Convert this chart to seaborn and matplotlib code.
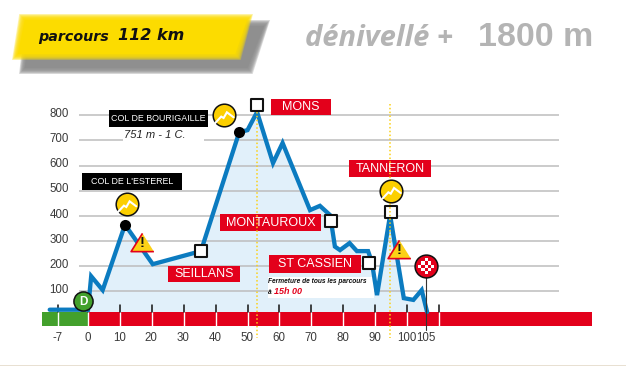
import numpy as np
import pandas as pd
import matplotlib
matplotlib.use("Agg")
import matplotlib.pyplot as plt
import matplotlib.patheffects as pe
import seaborn as sns
from matplotlib.patches import Polygon, Rectangle

# --- data ---------------------------------------------------------------
km = [-12, 0, 1, 4.6, 11.6, 20.3, 35.4, 47.4, 50, 53, 58, 61, 69.6, 72.7, 75.9, 77.4, 79, 82, 84.3, 87.8, 89, 90.6, 94.7, 99, 102, 104.6, 106.3]
alt = [27, 27, 160, 105, 365, 208, 260, 733, 741, 813, 610, 690, 423, 440, 403, 278, 264, 292, 260, 260, 216, 85, 403, 73, 66, 105, 18]
alt_ticks = [100, 200, 300, 400, 500, 600, 700, 800]
km_ticks = [0, 10, 20, 30, 40, 50, 60, 70, 80, 90, 100]
cols_km = [11.6, 47.4]
cols_alt = [365, 733]
towns_km = [35.5, 53, 76.2, 88, 95]
towns_alt = [262, 839, 380, 213, 417]
town_labels = ["SEILLANS", "MONS", "MONTAUROUX", "ST CASSIEN", "TANNERON"]
col_labels = ["COL DE BOURIGAILLE", "COL DE L'ESTEREL"]
col_icon_km = [12.1, 42.6, 95]
col_icon_alt = [446, 800, 499]
warn_km = [17, 97.4]
warn_alt = [296, 268]

sns.set_theme(style="white")
plt.rcParams['font.family'] = ['Liberation Sans', 'DejaVu Sans']

W, H = 626, 366
fig = plt.figure(figsize=(W / 100, H / 100), dpi=100)
ax = fig.add_axes([0, 0, 1, 1])
PX = 3.19
PY = 0.2515
X0, Y0 = 88, 316.5
ax.set_xlim(-X0 / PX, (W - X0) / PX)
ax.set_ylim((Y0 - H) / PY, Y0 / PY)
ax.axis("off")

def xp(p): return (p - X0) / PX
def yp(p): return (Y0 - p) / PY

def blurred(points, color, z, spread=4, steps=9):
    pts = np.array(points, float)
    c = pts.mean(axis=0)
    half = (pts.max(axis=0) - pts.min(axis=0)) / 2
    for i in range(steps):
        d = spread * (1 - 2 * i / (steps - 1))
        scaled = c + (pts - c) * (1 + d / half)
        ax.add_patch(Polygon(np.c_[xp(scaled[:, 0]), yp(scaled[:, 1])], closed=True, fc=color, ec="none", alpha=0.3, zorder=z))
    inner = c + (pts - c) * (1 - spread / half)
    ax.add_patch(Polygon(np.c_[xp(inner[:, 0]), yp(inner[:, 1])], closed=True, fc=color, ec="none", zorder=z))

blurred([(28, 23), (267, 23), (250, 71), (22, 71)], "#8f8f8f", 1, spread=3)
blurred([(22, 17), (250, 17), (238, 57), (15, 57)], "#fcdc00", 2, spread=3)
ax.text(xp(38), yp(37), "parcours", fontsize=10.3, fontstyle="italic", fontweight="bold", family="DejaVu Sans", color="#111111", va="center", ha="left", zorder=3)
ax.text(xp(118), yp(36), "112 km", fontsize=11.5, fontstyle="italic", fontweight="bold", family="DejaVu Sans", color="#111111", va="center", ha="left", zorder=3)
ax.text(xp(305), yp(39), "dénivellé +", fontsize=21, fontstyle="italic", fontweight="bold", family="Open Sans", color="#b4b4b4", va="center", ha="left", zorder=3)
ax.text(xp(478), yp(38), "1800 m", fontsize=24.5, fontweight="bold", family="Liberation Sans", color="#b4b4b4", va="center", ha="left", zorder=3)

# grid
for a in alt_ticks:
    ax.plot([xp(79), xp(559)], [a, a], color="#bdbdbd", lw=1.1, zorder=2, solid_capstyle="butt")
    ax.text(xp(69), a + 5, str(a), fontsize=8.3, color="#3a3a3a", ha="right", va="center", zorder=9)

# profile fill
prof = pd.DataFrame({"km": km, "alt": alt})
fp = prof[prof.km >= 0]
ax.fill_between(fp.km, np.full(len(fp), 18), fp.alt, color="#e1f0fa", lw=0, zorder=1.5)

# km band
ax.add_patch(Rectangle((xp(42), yp(326.3)), (88 - 42) / PX, 14 / PY, fc="#43a02c", ec="none", zorder=3))
ax.add_patch(Rectangle((xp(88.7), yp(326.3)), (592 - 88.7) / PX, 14 / PY, fc="#e3001b", ec="none", zorder=3))
for t in km_ticks + [110, -9.4]:
    ax.plot([t, t], [yp(326.3), yp(312.3)], color="white", lw=1.0, zorder=4)
    ax.plot([t, t], [yp(312), yp(304.5)], color="#111111", lw=1.1, zorder=4)
for t in km_ticks:
    ax.text(t - 0.2, yp(338), str(t), fontsize=8.3, color="#3a3a3a", ha="center", va="center", zorder=9)
ax.text(-9.4, yp(338), "-7", fontsize=8.3, color="#3a3a3a", ha="center", va="center", zorder=9)
ax.text(106, yp(338), "105", fontsize=8.3, color="#3a3a3a", ha="center", va="center", zorder=9)
ax.plot([106, 106], [yp(276), yp(330)], color="#333333", lw=0.8, zorder=6)

# white note box
ax.add_patch(Rectangle((xp(268), yp(297.5)), 106 / PX, 20.5 / PY, fc="white", ec="none", zorder=3))
ax.text(xp(268), yp(281.5), "Fermeture de tous les parcours", fontsize=4.75, fontstyle="italic", fontweight="bold", color="#111111", va="center", zorder=8)
ax.text(xp(268), yp(292), "à", fontsize=4.75, fontstyle="italic", fontweight="bold", color="#111111", va="center", zorder=8)
ax.text(xp(274), yp(291.5), "15h 00", fontsize=6.5, fontstyle="italic", fontweight="bold", color="#e3001b", va="center", zorder=8)

# profile line
sns.lineplot(data=prof, x="km", y="alt", ax=ax, color="#0b7bc0", lw=3.1, sort=False, estimator=None, zorder=5, legend=False,
             solid_joinstyle="miter", solid_capstyle="round")
ax.set_xlabel(""); ax.set_ylabel("")
ax.set_xlim(-X0 / PX, (W - X0) / PX)
ax.set_ylim((Y0 - H) / PY, Y0 / PY)

# town squares and labels
sns.scatterplot(x=towns_km, y=towns_alt, marker="s", s=78, color="white", edgecolor="#111111", linewidth=1.5, ax=ax, zorder=7, legend=False)
boxes = [(168, 240, 266, 282), (271, 331, 99, 115), (220, 321, 214, 231), (269, 361, 255, 273), (349, 431, 160, 177)]
for lab, (x0, x1, y0, y1) in zip(town_labels, boxes):
    ax.add_patch(Rectangle((xp(x0), yp(y1)), (x1 - x0) / PX, (y1 - y0) / PY, fc="#e3001b", ec="none", zorder=6.5))
    ax.text(xp((x0 + x1) / 2), yp((y0 + y1) / 2 + 0.3), lab, fontsize=9, color="white", ha="center", va="center", zorder=8)

# dotted verticals
for k, top in [(52.9, 112), (94.8, 104)]:
    ax.plot([k, k], [yp(top), yp(338)], color="#fcd116", lw=1.1, ls=(0, (1, 1.5)), zorder=7.5)

# col labels
for lab, (x0, x1, y0, y1) in zip(col_labels, [(109, 208, 110, 127), (82, 182, 173, 190)]):
    ax.add_patch(Rectangle((xp(x0), yp(y1)), (x1 - x0) / PX, (y1 - y0) / PY, fc="black", ec="none", zorder=6))
    ax.text(xp((x0 + x1) / 2), yp((y0 + y1) / 2), lab, fontsize=6.4, color="white", ha="center", va="center", zorder=8)
ax.add_patch(Rectangle((xp(123), yp(145)), 81 / PX, 17 / PY, fc="white", ec="none", zorder=3))
ax.text(xp(155), yp(135), "751 m - 1 C.", fontsize=8, fontstyle="italic", color="#222222", ha="center", va="center", zorder=8)

# cols: black points
sns.scatterplot(x=cols_km, y=cols_alt, s=64, color="black", linewidth=0, ax=ax, zorder=7, legend=False)

# yellow col icons
sns.scatterplot(x=col_icon_km, y=col_icon_alt, s=265, color="#fccf00", edgecolor="#111111", linewidth=1.1, ax=ax, zorder=8, legend=False)
dx = np.array([-8.7, -2.7, -0.3, 3, 9.7]) / PX
dy = -np.array([7.7, 1.3, 2.7, -3, 2]) / PY
for k, a in zip(col_icon_km, col_icon_alt):
    ax.plot(k + dx, a + dy, color="white", lw=1.5, zorder=9, solid_joinstyle="miter")

# warning triangles
sns.scatterplot(x=warn_km, y=warn_alt, marker=[(0, 0.8), (-1, -0.8), (1, -0.8)], s=270, color="#fcd116", edgecolor="#e3001b", linewidth=1.2, ax=ax, zorder=8, legend=False)
for k, a in zip(warn_km, warn_alt):
    ax.text(k, a - 4, "!", fontsize=10.5, fontweight="bold", color="#111111", ha="center", va="center", zorder=9)

# start marker
sns.scatterplot(x=[-1.5], y=[60], s=190, color="#43a02c", edgecolor="#111111", linewidth=1.1, ax=ax, zorder=8, legend=False)
ax.text(-1.5, 58, "D", fontsize=8.5, fontweight="bold", color="white", ha="center", va="center", zorder=9)

# finish marker
cx, cy = 106, 200
sns.scatterplot(x=[cx], y=[cy], s=270, color="#e3001b", edgecolor="#111111", linewidth=1.1, ax=ax, zorder=8, legend=False)
for i in range(-2, 3):
    for j in range(-2, 3):
        if (i + j) % 2 == 0 and abs(i) + abs(j) < 4:
            ax.add_patch(Rectangle((cx + i - 0.5, cy + j * 12.7 - 6.35), 1.0, 12.7, fc="white", ec="none", zorder=9))

# bottom rule
ax.add_patch(Rectangle((xp(0), yp(366)), W / PX, 1.2 / PY, fc="#e8e0d2", ec="none", zorder=1))

fig.savefig("out.png", dpi=100, facecolor="white")
